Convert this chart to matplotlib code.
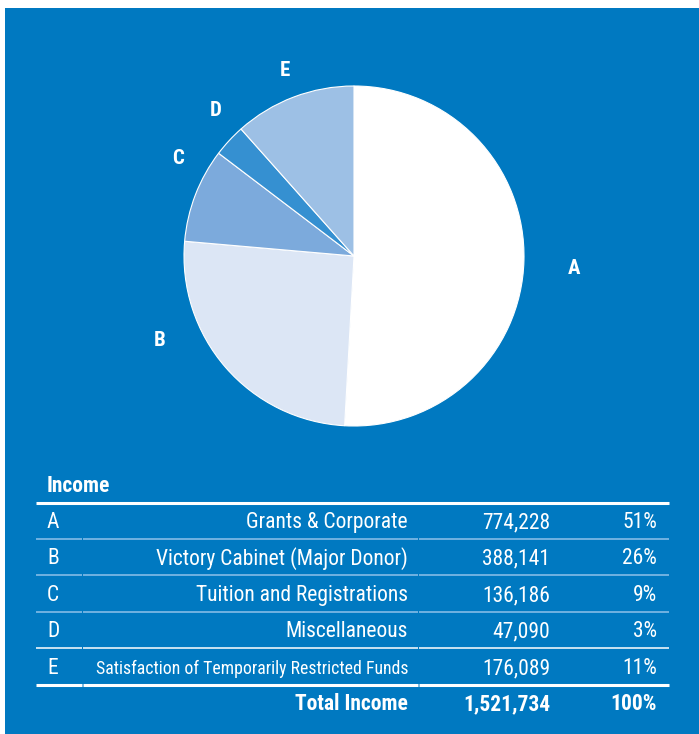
import matplotlib.pyplot as plt
from matplotlib import font_manager as fm
from matplotlib.patches import Rectangle

# -----------------------------
# Data
# -----------------------------
LETTERS = ["A", "B", "C", "D", "E"]
SOURCES = [
    "Grants & Corporate",
    "Victory Cabinet (Major Donor)",
    "Tuition and Registrations",
    "Miscellaneous",
    "Satisfaction of Temporarily Restricted Funds",
]
AMOUNTS = [774228, 388141, 136186, 47090, 176089]
PERCENTS = [51, 26, 9, 3, 11]
TOTAL_LABEL = "Total Income"
TOTAL_AMOUNT = 1521734
TOTAL_PERCENT = 100

# -----------------------------
# Style
# -----------------------------
W, H = 699, 734
BG = "#0079c1"
SLICE_COLORS = ["#ffffff", "#dce6f5", "#7caadc", "#3590d1", "#9dc0e5"]
ROW_LINE = "#8fc1ea"
PREFERRED = ["Roboto Condensed", "Archivo Narrow", "PT Sans Narrow",
             "Asap Condensed", "Barlow Semi Condensed"]

# label positions (pixels, top-left origin)
LABEL_POS = {"A": (574, 268), "B": (160, 341), "C": (178, 158),
             "D": (216, 110), "E": (285, 71)}


def pick_font():
    have = {f.name for f in fm.fontManager.ttflist}
    for name in PREFERRED:
        if name in have:
            return [name, "DejaVu Sans"]
    return ["DejaVu Sans"]


def Y(y):
    return H - y


def main():
    plt.rcParams["font.family"] = pick_font()
    fig = plt.figure(figsize=(W / 100, H / 100), dpi=100)
    fig.patch.set_facecolor("white")
    ax = fig.add_axes([0, 0, 1, 1])

    ax.add_patch(Rectangle((5, 0), W - 5, H - 8, facecolor=BG,
                           edgecolor="none", zorder=0))

    ax.pie(AMOUNTS, colors=SLICE_COLORS, startangle=90, counterclock=False,
           center=(354, Y(256)), radius=170,
           wedgeprops=dict(edgecolor="white", linewidth=0.8), frame=True)

    for letter in LETTERS:
        x, y = LABEL_POS[letter]
        ax.text(x, Y(y), letter, color="white", fontsize=15,
                fontweight="bold", ha="center", va="center")

    # table
    fs = 15.5
    ax.text(47, Y(486), "Income", color="white", fontsize=fs,
            fontweight="bold", ha="left", va="center")
    ax.plot([36, 669], [Y(503), Y(503)], color="white", lw=2.2,
            solid_capstyle="butt")

    row_y = [522.5, 558.5, 595.5, 631.5, 668.5]
    line_y = [539, 575, 612, 648]
    line_col = [ROW_LINE, ROW_LINE, ROW_LINE, "white"]
    for i, y in enumerate(row_y):
        # the long E label is squeezed in the original
        src_fs = 12.8 if len(SOURCES[i]) > 35 else fs
        ax.text(47, Y(y), LETTERS[i], color="white", fontsize=fs,
                ha="left", va="center")
        ax.text(408, Y(y), SOURCES[i], color="white", fontsize=src_fs,
                ha="right", va="center")
        ax.text(550, Y(y), f"{AMOUNTS[i]:,}", color="white", fontsize=fs,
                ha="right", va="center")
        ax.text(657, Y(y), f"{PERCENTS[i]}%", color="white", fontsize=fs,
                ha="right", va="center")

    segs = [(36, 81.5), (82.5, 417.5), (418.5, 669)]
    for y, c in zip(line_y, line_col):
        for x0, x1 in segs:
            ax.plot([x0, x1], [Y(y), Y(y)], color=c, lw=1.1,
                    solid_capstyle="butt")
    for x0, x1 in segs:
        ax.plot([x0, x1], [Y(685), Y(685)], color="white", lw=2.2,
                solid_capstyle="butt")

    ty = 704.5
    ax.text(408, Y(ty), TOTAL_LABEL, color="white", fontsize=fs,
            fontweight="bold", ha="right", va="center")
    ax.text(550, Y(ty), f"{TOTAL_AMOUNT:,}", color="white", fontsize=fs,
            fontweight="bold", ha="right", va="center")
    ax.text(657, Y(ty), f"{TOTAL_PERCENT}%", color="white", fontsize=fs,
            fontweight="bold", ha="right", va="center")

    ax.set_xlim(0, W)
    ax.set_ylim(0, H)
    ax.set_aspect("auto")
    ax.axis("off")

    fig.savefig("out.png", dpi=100, facecolor=fig.get_facecolor())
    plt.close(fig)


if __name__ == "__main__":
    main()
